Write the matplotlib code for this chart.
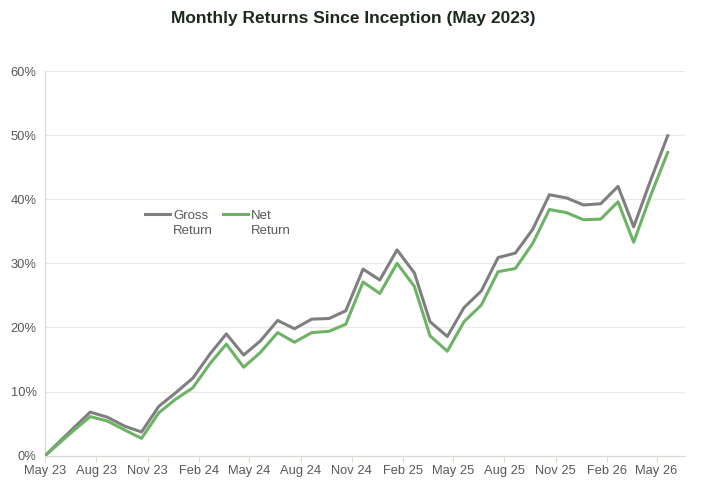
import matplotlib
matplotlib.use("Agg")
import matplotlib.pyplot as plt
from matplotlib.lines import Line2D
import pandas as pd

plt.rcParams['font.family'] = ['Liberation Sans', 'DejaVu Sans']

# inception point, then one value per month
dates = [pd.Timestamp("2023-05-01")] + list(
    pd.date_range("2023-06-21", periods=36, freq=pd.DateOffset(months=1)))

gross = [0.0, 4.3, 6.8, 6.0, 4.6, 3.7, 7.7, 9.8, 12.1, 15.9, 19.0, 15.7, 17.9,
         21.1, 19.8, 21.3, 21.4, 22.6, 29.1, 27.4, 32.1, 28.5, 20.9, 18.6,
         23.1, 25.7, 30.9, 31.6, 35.3, 40.7, 40.2, 39.1, 39.3, 42.0, 35.7,
         43.1, 49.9]
net = [0.0, 3.9, 6.1, 5.4, 4.0, 2.7, 6.7, 8.8, 10.6, 14.4, 17.4, 13.8, 16.1,
       19.2, 17.7, 19.2, 19.4, 20.5, 27.1, 25.3, 30.0, 26.4, 18.7, 16.3,
       20.9, 23.5, 28.7, 29.2, 33.1, 38.4, 37.9, 36.8, 36.9, 39.6, 33.3,
       40.7, 47.3]

tick_dates = pd.date_range("2023-05-01", "2026-05-01", freq=pd.DateOffset(months=3))
tick_labels = [d.strftime("%b %y") for d in tick_dates]

grey = "#7f7f7f"
green = "#6db365"
axis_col = "#ddd8d0"
grid_col = "#ece9e4"
text_col = "#595959"

fig = plt.figure(figsize=(7.07, 4.92), dpi=100)
ax = fig.add_axes([45 / 707, 1 - 455.7 / 492, 640 / 707, 384.7 / 492])

l_gross, = ax.plot(dates, gross, color=grey, lw=2.2, zorder=3)
l_net, = ax.plot(dates, net, color=green, lw=2.2, zorder=3)

ax.set_ylim(0, 60)
ax.set_yticks(range(0, 61, 10))
ax.set_yticklabels([f"{v}%" for v in range(0, 61, 10)])
ax.set_xlim(pd.Timestamp("2023-05-01"), pd.Timestamp("2026-06-21"))
ax.set_xticks(tick_dates)
ax.set_xticklabels(tick_labels)

ax.grid(axis="y", color=grid_col, lw=0.9, zorder=0)
for s in ["top", "right"]:
    ax.spines[s].set_visible(False)
ax.spines["left"].set_color(axis_col)
ax.spines["bottom"].set_color(axis_col)
ax.tick_params(axis="y", length=0, pad=6, labelsize=9.3, labelcolor=text_col)
ax.tick_params(axis="x", length=4, color=axis_col, pad=3, labelsize=9.3,
               labelcolor=text_col)

# two-line labels, handle next to the first line only
blank = Line2D([], [], color="none")
leg = ax.legend([l_gross, blank, l_net, blank],
                ["Gross", "Return", "Net", "Return"],
                loc="upper left", bbox_to_anchor=(0.156, 0.64), ncol=2,
                frameon=False, fontsize=9.5, handlelength=1.9,
                handletextpad=0.25, columnspacing=0.75, labelspacing=0.25,
                borderpad=0, borderaxespad=0)
for t in leg.get_texts():
    t.set_color(text_col)

fig.text(0.5, 1 - 19 / 492, "Monthly Returns Since Inception (May 2023)",
         ha="center", va="center", fontsize=12.5, fontweight="bold",
         color="#1c2a1c")

fig.savefig("out.png", dpi=100)
